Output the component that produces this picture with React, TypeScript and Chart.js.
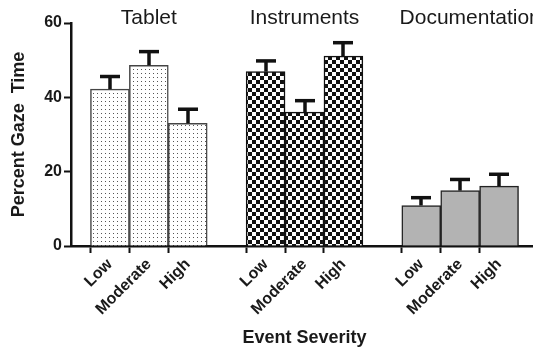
import React, { useEffect, useRef } from 'react';
import { Chart, registerables } from 'chart.js';

Chart.register(...registerables);

// Category slots ('' = empty gap slot between groups)
const categories = ['', 'Low', 'Moderate', 'High', '', 'Low', 'Moderate', 'High', '', 'Low', 'Moderate', 'High', ''];
const groupTitles = ['Tablet', 'Instruments', 'Documentation'];
const groupOfSlot = [-1, 0, 0, 0, -1, 1, 1, 1, -1, 2, 2, 2, -1];
const meanValues = [null, 42.2, 48.6, 33.0, null, 46.9, 36.0, 51.1, null, 10.9, 14.9, 16.1, null];
const errorValues = [null, 3.4, 3.7, 3.8, null, 2.9, 3.1, 3.6, null, 2.1, 3.0, 3.2, null];
const yTicks = [0, 20, 40, 60];

const FONT = '"Liberation Sans", Arial, Helvetica, sans-serif';

function makeDotPattern(ctx: CanvasRenderingContext2D) {
  const c = document.createElement('canvas');
  c.width = 4; c.height = 4;
  const g = c.getContext('2d')!;
  g.fillStyle = '#ffffff'; g.fillRect(0, 0, 4, 4);
  g.fillStyle = '#555555'; g.fillRect(1, 1, 1, 1);
  return ctx.createPattern(c, 'repeat')!;
}

function makeCheckPattern(ctx: CanvasRenderingContext2D) {
  const c = document.createElement('canvas');
  c.width = 8; c.height = 8;
  const g = c.getContext('2d')!;
  g.fillStyle = '#ffffff'; g.fillRect(0, 0, 8, 8);
  g.fillStyle = '#111111'; g.fillRect(0, 0, 4, 4); g.fillRect(4, 4, 4, 4);
  return ctx.createPattern(c, 'repeat')!;
}

const titleNudge = [0, 0, 10];

const overlayPlugin = {
  id: 'overlay',
  afterDatasetsDraw(chart: any) {
    const ctx: CanvasRenderingContext2D = chart.ctx;
    const y = chart.scales.y;
    const x = chart.scales.x;
    const meta = chart.getDatasetMeta(0);
    ctx.save();
    ctx.strokeStyle = '#111';
    ctx.lineWidth = 3.5;
    ctx.lineCap = 'butt';
    meanValues.forEach((v, i) => {
      if (v == null) return;
      const e = errorValues[i] as number;
      const bar = meta.data[i];
      const px = Math.round(bar.x);
      const y0 = y.getPixelForValue(v);
      const y1 = y.getPixelForValue(v + e);
      ctx.beginPath(); ctx.moveTo(px, y0); ctx.lineTo(px, y1); ctx.stroke();
      ctx.beginPath(); ctx.moveTo(px - 10, y1); ctx.lineTo(px + 10, y1); ctx.stroke();
    });
    ctx.fillStyle = '#1a1a1a';
    ctx.font = '21px ' + FONT;
    ctx.textAlign = 'center';
    ctx.textBaseline = 'alphabetic';
    groupTitles.forEach((t, g) => {
      const idx = groupOfSlot.map((gg, i) => (gg === g ? i : -1)).filter((i) => i >= 0);
      const cx = idx.reduce((s, i) => s + x.getPixelForValue(i), 0) / idx.length;
      ctx.fillText(t, cx + titleNudge[g], 24);
    });
    ctx.restore();
  },
};

export default function App() {
  const ref = useRef<HTMLCanvasElement>(null);
  useEffect(() => {
    const canvas = ref.current!;
    const ctx = canvas.getContext('2d')!;
    const dots = makeDotPattern(ctx);
    const check = makeCheckPattern(ctx);
    const fills = [dots, check, '#b3b3b3'];
    const borders = ['#444444', '#111111', '#222222'];
    const chart = new Chart(canvas, {
      type: 'bar',
      data: {
        labels: categories,
        datasets: [
          {
            data: meanValues as any,
            backgroundColor: (c: any) => fills[Math.max(0, groupOfSlot[c.dataIndex])],
            borderColor: (c: any) => borders[Math.max(0, groupOfSlot[c.dataIndex])],
            borderWidth: 1.5,
            barPercentage: 1,
            categoryPercentage: 1,
          },
        ],
      },
      options: {
        responsive: false,
        maintainAspectRatio: false,
        animation: false,
        layout: { padding: { top: 23, right: 0, left: 0, bottom: 0 } },
        plugins: { legend: { display: false }, tooltip: { enabled: false } },
        scales: {
          x: {
            type: 'category',
            offset: false,
            border: { display: true, color: '#111', width: 2.5 },
            grid: {
              drawOnChartArea: false,
              drawTicks: true,
              tickLength: 7,
              tickWidth: 2,
              tickColor: (c: any) => (c.tick && c.tick.label === '' ? 'rgba(0,0,0,0)' : '#111'),
            },
            ticks: {
              autoSkip: false,
              minRotation: 45,
              maxRotation: 45,
              padding: 2,
              color: '#1a1a1a',
              font: { family: FONT, size: 16, weight: 'bold' },
            },
            title: {
              display: true,
              text: 'Event Severity',
              color: '#1a1a1a',
              font: { family: FONT, size: 18, weight: 'bold' },
              padding: { top: 0, bottom: 2 },
            },
            afterFit: (s: any) => { s.height = 105; s.paddingLeft = 0; s.paddingRight = 0; },
          },
          y: {
            min: 0,
            max: 60,
            border: { display: true, color: '#111', width: 2.5 },
            grid: {
              drawOnChartArea: false,
              drawTicks: true,
              tickLength: 7,
              tickWidth: 2,
              tickColor: '#111',
            },
            afterBuildTicks: (s: any) => { s.ticks = yTicks.map((v) => ({ value: v })); },
            ticks: {
              padding: 2,
              color: '#1a1a1a',
              font: { family: FONT, size: 16, weight: 'bold' },
            },
            title: {
              display: true,
              text: 'Percent Gaze  Time',
              color: '#1a1a1a',
              font: { family: FONT, size: 18, weight: 'bold' },
              padding: { top: 8, bottom: 0 },
            },
            afterFit: (s: any) => { s.width = 71; },
          },
        },
      },
      plugins: [overlayPlugin],
    });
    return () => chart.destroy();
  }, []);
  return (
    <div style={{ position: 'fixed', left: 0, top: 0, width: 533, height: 351, overflow: 'hidden', background: '#fff' }}>
      <canvas ref={ref} width={538} height={351} style={{ width: 538, height: 351, display: 'block' }} />
    </div>
  );
}
